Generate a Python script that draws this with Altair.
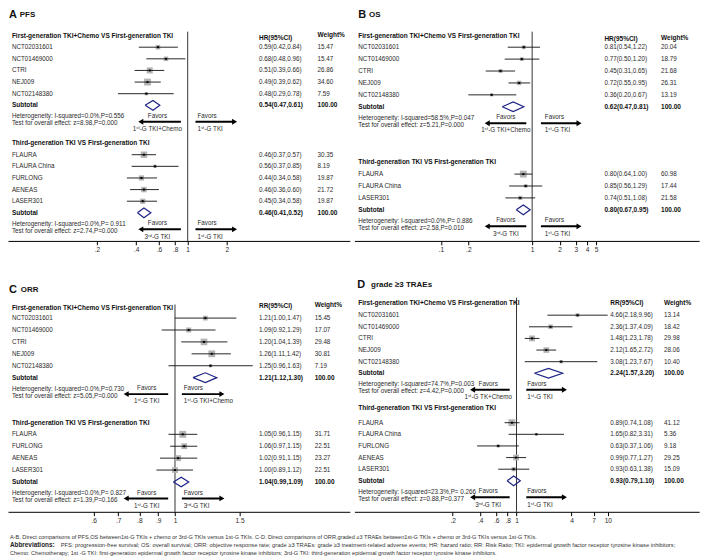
import math
import altair as alt
import pandas as pd

FONT = "Liberation Sans"
SX = 0.978
SY = 0.97
TXT = "#2a2a2a"
NAVY = "#1d2383"
PLOT_H = 238
FS = 6.3
FSB = 6.5

# ------------------------------------------------------------------ data
HDR_CHEMO = "First-generation TKI+Chemo VS First-generation TKI"
HDR_THIRD = "Third-generation TKI VS First-generation TKI"
CHEMO_STUDIES = ["NCT02031601", "NCT01469000", "CTRI", "NEJ009", "NCT02148380"]

# A  PFS
PFS_C_EST = [0.59, 0.68, 0.51, 0.49, 0.48]
PFS_C_LO = [0.42, 0.48, 0.39, 0.39, 0.29]
PFS_C_HI = [0.84, 0.96, 0.66, 0.62, 0.78]
PFS_C_W = [15.47, 15.47, 26.86, 34.60, 7.59]
PFS_C_SUB = [0.54, 0.47, 0.61]
PFS_C_HET = ["Heterogeneity: I-squared=0.0%,P=0.556", "Test for overall effect: z=8.98,P=0.000"]
PFS_T_STUDIES = ["FLAURA", "FLAURA China", "FURLONG", "AENEAS", "LASER301"]
PFS_T_EST = [0.46, 0.56, 0.44, 0.46, 0.45]
PFS_T_LO = [0.37, 0.37, 0.34, 0.36, 0.34]
PFS_T_HI = [0.57, 0.85, 0.58, 0.60, 0.58]
PFS_T_W = [30.35, 8.19, 19.87, 21.72, 19.87]
PFS_T_SUB = [0.46, 0.41, 0.52]
PFS_T_HET = ["Heterogeneity: I-squared=0.0%,P= 0.911", "Test for overall effect: z=2.74,P=0.000"]
PFS_TICKS = [0.2, 0.4, 0.6, 0.8, 1, 2]

# B  OS
OS_C_EST = [0.81, 0.77, 0.45, 0.72, 0.36]
OS_C_LO = [0.54, 0.50, 0.31, 0.55, 0.20]
OS_C_HI = [1.22, 1.20, 0.65, 0.95, 0.67]
OS_C_W = [20.04, 18.79, 21.68, 26.31, 13.19]
OS_C_SUB = [0.62, 0.47, 0.81]
OS_C_HET = ["Heterogeneity: I-squared=58.5%,P=0.047", "Test for overall effect: z=5.21,P=0.000"]
OS_T_STUDIES = ["FLAURA", "FLAURA China", "LASER301"]
OS_T_EST = [0.80, 0.85, 0.74]
OS_T_LO = [0.64, 0.56, 0.51]
OS_T_HI = [1.00, 1.29, 1.08]
OS_T_W = [60.98, 17.44, 21.58]
OS_T_SUB = [0.80, 0.67, 0.95]
OS_T_HET = ["Heterogeneity: I-squared=0.0%,P= 0.886", "Test for overall effect: z=2.58,P=0.010"]
OS_TICKS = [0.1, 0.2, 1, 2, 3, 4, 5]

# C  ORR
ORR_C_EST = [1.21, 1.09, 1.20, 1.26, 1.25]
ORR_C_LO = [1.00, 0.92, 1.04, 1.11, 0.96]
ORR_C_HI = [1.47, 1.29, 1.39, 1.42, 1.63]
ORR_C_W = [15.45, 17.07, 29.48, 30.81, 7.19]
ORR_C_SUB = [1.21, 1.12, 1.30]
ORR_C_HET = ["Heterogeneity: I-squared=0.0%,P=0.730", "Test for overall effect: z=5.05,P=0.000"]
ORR_T_STUDIES = ["FLAURA", "FURLONG", "AENEAS", "LASER301"]
ORR_T_EST = [1.05, 1.06, 1.02, 1.00]
ORR_T_LO = [0.96, 0.97, 0.91, 0.89]
ORR_T_HI = [1.15, 1.15, 1.15, 1.12]
ORR_T_W = [31.71, 22.51, 23.27, 22.51]
ORR_T_SUB = [1.04, 0.99, 1.09]
ORR_T_HET = ["Heterogeneity: I-squared=0.0%,P= 0.827", "Test for overall effect: z=1.39,P=0.166"]
ORR_TICKS = [0.6, 0.7, 0.8, 0.9, 1, 1.5]

# D  grade >=3 TRAEs
AE_C_EST = [4.66, 2.36, 1.48, 2.12, 3.08]
AE_C_LO = [2.18, 1.37, 1.23, 1.65, 1.23]
AE_C_HI = [9.96, 4.09, 1.78, 2.72, 7.67]
AE_C_W = [13.14, 18.42, 29.98, 28.06, 10.40]
AE_C_SUB = [2.24, 1.57, 3.20]
AE_C_HET = ["Heterogeneity: I-squared=74.7%,P=0.003", "Test for overall effect: z=4.42,P=0.000"]
AE_T_STUDIES = ["FLAURA", "FLAURA China", "FURLONG", "AENEAS", "LASER301"]
AE_T_EST = [0.89, 1.65, 0.63, 0.99, 0.93]
AE_T_LO = [0.74, 0.82, 0.37, 0.77, 0.63]
AE_T_HI = [1.08, 3.31, 1.06, 1.27, 1.38]
AE_T_W = [41.12, 5.36, 9.18, 29.25, 15.09]
AE_T_SUB = [0.93, 0.79, 1.10]
AE_T_HET = ["Heterogeneity: I-squared=23.3%,P= 0.266", "Test for overall effect: z=0.88,P=0.377"]
AE_TICKS = [0.2, 0.4, 0.6, 0.8, 1, 4, 7, 10]

G1 = "1\u02e2\u1d57-G TKI"
G3 = "3\u02b3\u1d48-G TKI"

FOOTER_1 = ("A-B. Direct comparisons of PFS,OS  between1st-G TKIs + chemo or 3rd-G TKIs versus 1st-G TKIs.   "
            "C-D. Direct comparisons of ORR,graded \u22653 TRAEs  between1st-G TKIs + chemo or 3rd-G TKIs versus 1st-G TKIs.")
FOOTER_2B = "Abbreviations:"
FOOTER_2 = ("PFS: progression-free survival; OS: overall survival; ORR: objective response rate; grade \u22653 TRAEs: "
            "grade \u22653 treatment-related adverse events; HR: hazard ratio; RR: Risk Ratio; TKI: epidermal growth "
            "factor receptor tyrosine kinase inhibitors;")
FOOTER_3 = ("Chemo: Chemotherapy; 1st -G TKI: first-generation epidermal growth factor receptor tyrosine kinase "
            "inhibitors; 3rd-G TKI: third-generation epidermal growth factor receptor tyrosine kinase inhibitors.")


def grp(header, studies, est, lo, hi, w, sub, het, favl, favr):
    return dict(header=header, studies=studies, est=est, lo=lo, hi=hi, w=w, sub=sub, het=het,
                favl=favl, favr=favr)


PANELS = {
    "A": dict(letter="A", name="PFS", measure="HR(95%CI)", ticks=PFS_TICKS,
              groups=[grp(HDR_CHEMO, CHEMO_STUDIES, PFS_C_EST, PFS_C_LO, PFS_C_HI, PFS_C_W, PFS_C_SUB, PFS_C_HET,
                          G1 + "+Chemo", G1),
                      grp(HDR_THIRD, PFS_T_STUDIES, PFS_T_EST, PFS_T_LO, PFS_T_HI, PFS_T_W, PFS_T_SUB, PFS_T_HET,
                          G3, G1)],
              L=dict(x1=184, k=57.7, W=350, lab_x=4, hr_x=257, wt_x=317, tl=(1, 12, 5), hdr_hr_y=28,
                     hdr_wt_y=25, blocks=[(26, 38, 12), (137, 149, 12)], vtop=22,
                     arl=(177, 133), favl_c=153, arr=(192, 235), favr_x=194)),
    "B": dict(letter="B", name="OS", measure="HR(95%CI)", ticks=OS_TICKS,
              groups=[grp(HDR_CHEMO, CHEMO_STUDIES, OS_C_EST, OS_C_LO, OS_C_HI, OS_C_W, OS_C_SUB, OS_C_HET,
                          G1 + "+Chemo", G1),
                      grp(HDR_THIRD, OS_T_STUDIES, OS_T_EST, OS_T_LO, OS_T_HI, OS_T_W, OS_T_SUB, OS_T_HET,
                          G3, G1)],
              L=dict(x1=182, k=40.6, W=353, lab_x=4, hr_x=256, wt_x=314, tl=(4, 15, 5), hdr_hr_y=30,
                     hdr_wt_y=28, blocks=[(26, 38, 12.3), (157, 169, 12.3)], vtop=22,
                     arl=(176, 133), favl_c=155, arr=(191, 233), favr_x=195)),
    "C": dict(letter="C", name="ORR", measure="RR(95%CI)", ticks=ORR_TICKS,
              groups=[grp(HDR_CHEMO, CHEMO_STUDIES, ORR_C_EST, ORR_C_LO, ORR_C_HI, ORR_C_W, ORR_C_SUB, ORR_C_HET,
                          G1, G1 + "+Chemo"),
                      grp(HDR_THIRD, ORR_T_STUDIES, ORR_T_EST, ORR_T_LO, ORR_T_HI, ORR_T_W, ORR_T_SUB, ORR_T_HET,
                          G1, G3)],
              L=dict(x1=171, k=163, W=350, lab_x=4, hr_x=257, wt_x=314, tl=(1, 13, 9), hdr_hr_y=26,
                     hdr_wt_y=24, blocks=[(28, 38, 12.3), (146, 158, 12.3)], vtop=24,
                     arl=(164, 118), favl_c=142, arr=(178, 222), favr_x=180)),
    "D": dict(letter="D", name="grade \u22653 TRAEs", measure="RR(95%CI)", ticks=AE_TICKS,
              groups=[grp(HDR_CHEMO, CHEMO_STUDIES, AE_C_EST, AE_C_LO, AE_C_HI, AE_C_W, AE_C_SUB, AE_C_HET,
                          "1\u02e2\u1d57-G TK+Chemo", G1),
                      grp(HDR_THIRD, AE_T_STUDIES, AE_T_EST, AE_T_LO, AE_T_HI, AE_T_W, AE_T_SUB, AE_T_HET,
                          G3, G1)],
              L=dict(x1=166, k=40.6, W=353, lab_x=4, hr_x=262, wt_x=317, tl=(3, 17, 4), hdr_hr_y=22,
                     hdr_wt_y=22, blocks=[(22, 35, 12), (131, 146, 12)], vtop=17,
                     arl=(159, 118), favl_c=137, arr=(176, 218), favr_x=177)),
}


def ci_text(e, l, h):
    return f"{e:.2f}({l:.2f},{h:.2f})"


def text_layer(df, x_px, align="left", bold=False, size=FS, color=TXT, ys=None):
    return alt.Chart(df).mark_text(
        align=align, baseline="middle", font=FONT, fontSize=size,
        fontWeight="bold" if bold else "normal", color=color
    ).encode(x=alt.value(x_px * SX), y=alt.Y("y:Q", scale=ys, axis=None), text="text:N")


def build_panel(P):
    L = P["L"]
    W = L["W"] * SX
    H = PLOT_H * SY
    dom = [math.exp(-L["x1"] / L["k"]), math.exp((L["W"] - L["x1"]) / L["k"])]
    xs = alt.Scale(type="log", domain=dom, nice=False)
    ys = alt.Scale(domain=[0, PLOT_H], reverse=True, nice=False, zero=False)
    xaxis = alt.Axis(
        values=P["ticks"], title=None, grid=False,
        labelExpr="datum.value < 1 ? replace(format(datum.value, '.1f'), '0.', '.') : format(datum.value, '~g')",
        domainColor="#000", domainWidth=1, tickColor="#000", tickWidth=1, tickSize=4 * SY,
        labelFont=FONT, labelFontSize=6.6, labelColor=TXT, labelPadding=2,
        labelOverlap=False, labelFlush=False, minExtent=14 * SY, maxExtent=14 * SY,
    )
    maxw = max(max(g["w"]) for g in P["groups"])

    studies, dia = [], []
    lab_n, lab_b, hr_b, wt_b, favl, favr, arrows = [], [], [], [], [], [], []
    hr_b.append(dict(text=P["measure"], y=L["hdr_hr_y"]))
    wt_b.append(dict(text="Weight%", y=L["hdr_wt_y"]))
    for gi, (G, (hy, fy, step)) in enumerate(zip(P["groups"], L["blocks"])):
        lab_b.append(dict(text=G["header"], y=hy))
        n = len(G["studies"])
        for i in range(n):
            y = fy + i * step
            studies.append(dict(label=G["studies"][i], est=G["est"][i], lo=G["lo"][i], hi=G["hi"][i],
                                sz=50.0 * G["w"][i] / maxw * SX * SY, y=y,
                                ci=ci_text(G["est"][i], G["lo"][i], G["hi"][i]), wt=f"{G['w'][i]:.2f}"))
            lab_n.append(dict(text=G["studies"][i], y=y))
        sy_ = fy + n * step
        e, lo, hi = G["sub"]
        lab_b.append(dict(text="Subtotal", y=sy_))
        hr_b.append(dict(text=ci_text(e, lo, hi), y=sy_))
        wt_b.append(dict(text="100.00", y=sy_))
        for j, (xv, dy) in enumerate([(lo, 0), (e, -5), (hi, 0), (e, 5), (lo, 0)]):
            dia.append(dict(x=xv, y=sy_ + dy, ord=j, g=gi))
        lab_n.append(dict(text=G["het"][0], y=sy_ + 11.5))
        lab_n.append(dict(text=G["het"][1], y=sy_ + 18.5))
        favl.append(dict(text="Favors", y=sy_ + 11))
        favl.append(dict(text=G["favl"], y=sy_ + 24.5))
        favr.append(dict(text="Favors", y=sy_ + 11))
        favr.append(dict(text=G["favr"], y=sy_ + 24.5))
        arrows.append(dict(y=sy_ + 17))

    sdf = pd.DataFrame(studies)
    Y = alt.Y("y:Q", scale=ys, axis=None)

    vline = alt.Chart(pd.DataFrame([dict(x=1, y=L["vtop"], y2=PLOT_H)])).mark_rule(
        color="#333", strokeWidth=1).encode(x=alt.X("x:Q", scale=xs, axis=xaxis), y=Y, y2="y2:Q")
    squares = alt.Chart(sdf).mark_square(color="#b4b4b4", opacity=1).encode(
        x=alt.X("est:Q", scale=xs, axis=xaxis), y=Y, size=alt.Size("sz:Q", scale=None, legend=None))
    ci = alt.Chart(sdf).mark_rule(color="#111", strokeWidth=0.9).encode(
        x=alt.X("lo:Q", scale=xs, axis=xaxis), x2="hi:Q", y=Y)
    dots = alt.Chart(sdf).mark_square(color="#000", size=4, opacity=1).encode(
        x=alt.X("est:Q", scale=xs, axis=xaxis), y=Y)
    diamond = alt.Chart(pd.DataFrame(dia)).mark_line(color=NAVY, strokeWidth=1.2).encode(
        x=alt.X("x:Q", scale=xs, axis=xaxis), y=Y, order="ord:Q", detail="g:N")

    adf = pd.DataFrame(arrows)
    (l0, l1), (r0, r1) = L["arl"], L["arr"]
    shaft_l = alt.Chart(adf).mark_rule(color="#000", strokeWidth=2).encode(
        x=alt.value((l1 + 4) * SX), x2=alt.value(l0 * SX), y=Y)
    shaft_r = alt.Chart(adf).mark_rule(color="#000", strokeWidth=2).encode(
        x=alt.value(r0 * SX), x2=alt.value((r1 - 4) * SX), y=Y)
    head_l = alt.Chart(adf).mark_point(shape="triangle-left", filled=True, size=34, color="#000",
                                       opacity=1).encode(x=alt.value((l1 + 3) * SX), y=Y)
    head_r = alt.Chart(adf).mark_point(shape="triangle-right", filled=True, size=34, color="#000",
                                       opacity=1).encode(x=alt.value((r1 - 3) * SX), y=Y)

    hr_n = pd.DataFrame([dict(text=r["ci"], y=r["y"]) for r in studies])
    wt_n = pd.DataFrame([dict(text=r["wt"], y=r["y"]) for r in studies])
    tx, tw, ty = L["tl"]
    tdf = pd.DataFrame([dict(text=P["letter"], y=ty)])
    ndf = pd.DataFrame([dict(text=P["name"], y=ty)])

    layers = [
        vline, squares, ci, dots, diamond,
        shaft_l, shaft_r, head_l, head_r,
        text_layer(pd.DataFrame(lab_n), L["lab_x"], ys=ys),
        text_layer(pd.DataFrame(lab_b), L["lab_x"], bold=True, size=FSB, color="#111", ys=ys),
        text_layer(hr_n, L["hr_x"], ys=ys),
        text_layer(pd.DataFrame(hr_b), L["hr_x"], bold=True, size=FSB, color="#111", ys=ys),
        text_layer(wt_n, L["wt_x"], ys=ys),
        text_layer(pd.DataFrame(wt_b), L["wt_x"], bold=True, size=FSB, color="#111", ys=ys),
        text_layer(pd.DataFrame(favl), L["favl_c"], align="center", ys=ys),
        text_layer(pd.DataFrame(favr), L["favr_x"], ys=ys),
        text_layer(tdf, tx, bold=True, size=11, color="#111", ys=ys),
        text_layer(ndf, tw, bold=True, size=8, color="#111", ys=ys),
    ]
    return alt.layer(*layers).properties(width=W, height=H)


FOOT_H = 24
fys = alt.Scale(domain=[0, FOOT_H], reverse=True, nice=False, zero=False)
footer = alt.layer(
    text_layer(pd.DataFrame([dict(text=FOOTER_1, y=5), dict(text=FOOTER_3, y=21)]), 2, size=5.6,
               color="#333", ys=fys),
    text_layer(pd.DataFrame([dict(text=FOOTER_2B, y=13)]), 2, bold=True, size=6.4, color="#222", ys=fys),
    text_layer(pd.DataFrame([dict(text=FOOTER_2, y=13)]), 54, size=5.75, color="#333", ys=fys),
).properties(width=692, height=FOOT_H * SY)

row1 = alt.hconcat(build_panel(PANELS["A"]), build_panel(PANELS["B"]), spacing=4 * SX)
row2 = alt.hconcat(build_panel(PANELS["C"]), build_panel(PANELS["D"]), spacing=4 * SX)
grid = alt.vconcat(row1, row2, spacing=24 * SY)
chart = alt.vconcat(grid, footer, spacing=7 * SY).properties(padding=0).configure(
    font=FONT).configure_view(stroke="transparent", strokeWidth=0)

chart.save("out.html", embed_options={"renderer": "svg", "actions": False})
